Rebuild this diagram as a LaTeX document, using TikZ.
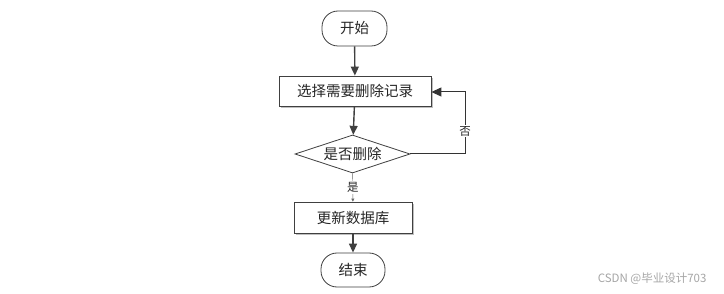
\documentclass[tikz,border=0pt]{standalone}
\usepackage{fontspec}
\newfontfamily\cjk{Noto Sans CJK SC}
\usetikzlibrary{shapes.geometric,arrows.meta,shadows}
\begin{document}
\begin{tikzpicture}[x=1pt,y=-1pt,
  every node/.style={font=\cjk\fontsize{14.5}{15}\selectfont, text=black!85},
  proc/.style={draw=black!75, line width=0.8pt, fill=white, inner sep=0pt,
    drop shadow={shadow xshift=2pt, shadow yshift=-2pt, fill=black!25, opacity=1}},
  term/.style={draw=black!75, line width=0.8pt, fill=white, rounded corners=16pt, inner sep=0pt},
  dec/.style={draw=black!75, line width=0.8pt, fill=white, diamond, aspect=3, inner sep=0pt},
  flow/.style={draw=black!75, line width=1.4pt, -{Triangle[length=9pt,width=8pt]}},
  thin/.style={draw=black!60, line width=0.4pt, -{Triangle[length=3pt,width=3pt]}}
]
\path[use as bounding box, fill=white] (0,0) rectangle (724,294);

\node[term, minimum width=65pt, minimum height=35pt] (start) at (354.5,28.5) {开始};
\node[proc, minimum width=152pt, minimum height=30pt] (sel) at (355,91) {选择需要删除记录};
\node[dec, minimum width=115pt, minimum height=38pt] (dia) at (352.5,154) {是否删除};
\node[proc, minimum width=118pt, minimum height=31pt] (upd) at (353,217.5) {更新数据库};
\node[term, minimum width=64pt, minimum height=34pt] (stop) at (353,270) {结束};

\draw[flow] (start) -- (sel);
\draw[flow] (sel) -- (dia);
\draw[thin] (dia) -- node[fill=white, inner sep=1pt, font=\cjk\fontsize{11.5}{12}\selectfont] {是} (upd);
\draw[flow] (upd) -- (stop);

\coordinate (fb) at (465,154);
\draw[draw=black!80, line width=1pt, -{Triangle[length=10pt,width=9pt]}] (dia.east) -- (fb) |- ([yshift=-1pt]sel.east);
\node[fill=white, inner sep=1pt, font=\cjk\fontsize{11.5}{12}\selectfont] (no) at (465,131) {否};

\node[text=black!35, font=\cjk\fontsize{11.5}{12}\selectfont, anchor=east] (wm) at (710,279) {CSDN @毕业设计703};
\end{tikzpicture}
\end{document}
